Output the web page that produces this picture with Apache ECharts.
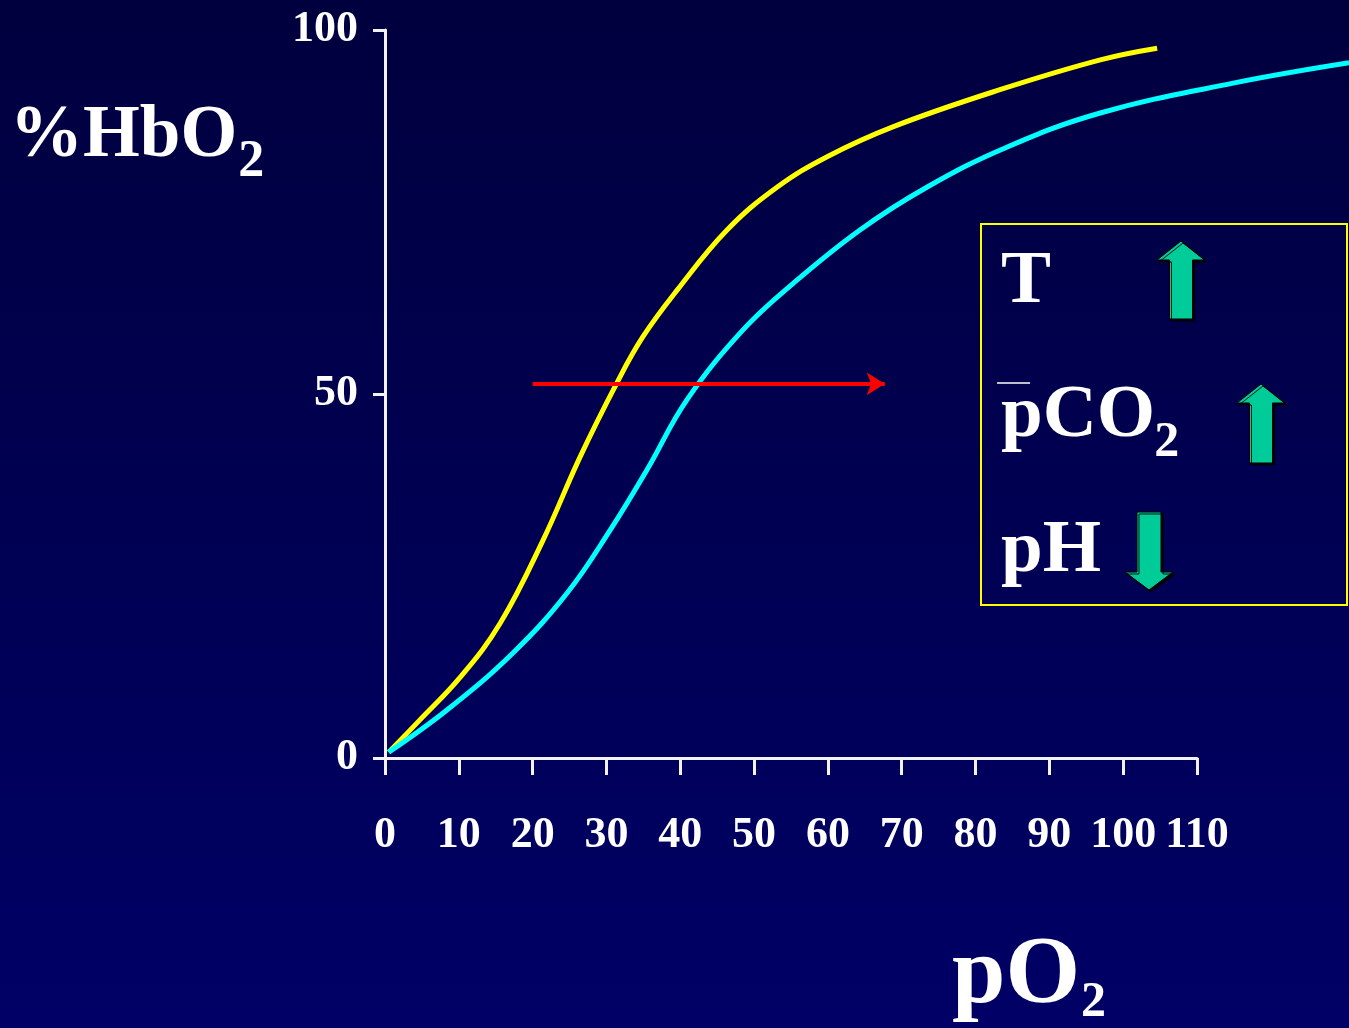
<!DOCTYPE html>
<html><head><meta charset="utf-8">
<script src="https://cdn.jsdelivr.net/npm/echarts@6/dist/echarts.min.js"></script>
<style>html,body{margin:0;padding:0;background:#000050;overflow:hidden}#c{width:1349px;height:1028px}</style>
</head><body><div id="c"></div>
<script>
// ---- data ----
const xTicks = [0, 10, 20, 30, 40, 50, 60, 70, 80, 90, 100, 110];
const yTicks = [0, 50, 100];
// left-shifted curve (yellow)
const yellowX = [0.5, 4.7, 10.2, 15.6, 21.4, 26.4, 31.4, 34.9, 39.6, 46.3, 53.1, 59.9, 68.8, 83.3, 96.9, 104.6];
const yellowY = [0.8, 5.2, 11.1, 18.5, 29.9, 41.3, 51.5, 57.8, 64.3, 72.5, 78.4, 82.6, 86.7, 91.8, 95.9, 97.5];
// right-shifted curve (cyan) - runs past the end of the drawn axis
const cyanX = [0.5, 8.4, 17.3, 24.7, 30.5, 35.5, 40.9, 48.5, 55.3, 64.3, 73.4, 84.0, 96.9, 114.9, 130.6];
const cyanY = [0.8, 6.6, 14.4, 22.7, 31.3, 39.6, 49.2, 58.8, 65.2, 72.5, 78.4, 83.8, 88.6, 92.7, 95.5];
// shift arrow (red)
const shiftFrom = [20, 51.4];
const shiftTo = [67.7, 51.4];
// texts
const yTitle = ['%HbO', '2'];
const xTitle = ['pO', '2'];
const legendLabels = ['T', 'pCO', 'pH'];

const SERIF = '"Liberation Serif","Times New Roman",serif';
const zip = (xs, ys) => xs.map((x, i) => [x, ys[i]]);

const W = 1349, GRID_L = 385, GRID_R = 152;
const xMax = xTicks[xTicks.length - 1];
// second (hidden) x axis spans the full width to the right edge with the same scale
const xMaxWide = xMax * (W - GRID_L) / (W - GRID_L - GRID_R);

const chart = echarts.init(document.getElementById('c'), null, {renderer: 'canvas'});

const mctx = document.createElement('canvas').getContext('2d');
function tw(text, size) { mctx.font = 'bold ' + size + 'px ' + SERIF; return mctx.measureText(text).width; }

function txt(text, x, y, size, shadow) {
  return {
    type: 'text', silent: true,
    style: {
      text: text, x: x, y: y, fill: '#ffffff',
      font: 'bold ' + size + 'px ' + SERIF,
      align: 'left', verticalAlign: 'middle',
      textShadowColor: shadow ? '#000000' : 'transparent',
      textShadowOffsetX: shadow ? 3 : 0, textShadowOffsetY: shadow ? 3 : 0, textShadowBlur: 0
    }
  };
}
const arrowStyle = {fill: '#00CC99', stroke: '#000000', lineWidth: 1, shadowColor: 'rgba(0,0,0,0.9)', shadowOffsetX: 2, shadowOffsetY: 2};
function upArrow(cx, tipY, baseY, headHalf, shaftHalf, bottomY) {
  return {
    type: 'polygon', silent: true,
    shape: {points: [[cx, tipY], [cx + headHalf, baseY], [cx + shaftHalf, baseY], [cx + shaftHalf, bottomY],
                     [cx - shaftHalf, bottomY], [cx - shaftHalf, baseY], [cx - headHalf, baseY]]},
    style: arrowStyle
  };
}
function downArrow(cx, topY, baseY, headHalf, shaftHalf, tipY) {
  return {
    type: 'polygon', silent: true,
    shape: {points: [[cx - shaftHalf, topY], [cx + shaftHalf, topY], [cx + shaftHalf, baseY], [cx + headHalf, baseY],
                     [cx, tipY], [cx - headHalf, baseY], [cx - shaftHalf, baseY]]},
    style: arrowStyle
  };
}

const graphics = [
  txt(yTitle[0], 10, 137, 73, true),
  txt(yTitle[1], 10 + tw(yTitle[0], 73) + 1, 163, 52, true),
  txt(xTitle[0], 952, 977, 96, true),
  txt(xTitle[1], 952 + tw(xTitle[0], 96) + 1, 1003, 50, true),
  {type: 'rect', silent: true, shape: {x: 981, y: 224, width: 366, height: 381},
   style: {fill: 'transparent', stroke: '#FFFF00', lineWidth: 2}},
  txt(legendLabels[0], 1001, 283, 75, true),
  txt(legendLabels[1], 1001, 417, 75, true),
  txt('2', 1001 + tw(legendLabels[1], 75) - 1, 443, 50, true),
  {type: 'line', silent: true, shape: {x1: 997, y1: 383, x2: 1030, y2: 383}, style: {stroke: '#ffffff', lineWidth: 1.5}},
  txt(legendLabels[2], 1001, 552, 75, true),
  upArrow(1181, 241, 260, 24, 11.5, 319),
  upArrow(1261, 384, 403, 24, 11.5, 463),
  downArrow(1149, 512, 572, 24, 12, 590)
];

const axisColor = '#f2f2f2';
const hiddenAxis = {show: false, axisLine: {show: false}, axisTick: {show: false}, axisLabel: {show: false}, splitLine: {show: false}};
const option = {
  animation: false,
  backgroundColor: {type: 'linear', x: 0, y: 0, x2: 0, y2: 1,
    colorStops: [{offset: 0, color: '#00003e'}, {offset: 1, color: '#000066'}]},
  grid: [
    {left: GRID_L, right: GRID_R, top: 30, bottom: 270, containLabel: false},
    {left: GRID_L, right: 0, top: 30, bottom: 270, containLabel: false}
  ],
  xAxis: [{
    gridIndex: 0, type: 'value', min: xTicks[0], max: xMax, interval: 10,
    axisLine: {show: true, onZero: false, lineStyle: {color: axisColor, width: 3}},
    axisTick: {show: true, length: 17, lineStyle: {color: axisColor, width: 3}},
    axisLabel: {color: '#ffffff', fontFamily: SERIF, fontWeight: 'bold', fontSize: 44, margin: 56,
      formatter: v => xTicks.includes(v) ? String(v) : ''},
    splitLine: {show: false}
  }, Object.assign({gridIndex: 1, type: 'value', min: 0, max: xMaxWide}, hiddenAxis)],
  yAxis: [{
    gridIndex: 0, type: 'value', min: yTicks[0], max: yTicks[yTicks.length - 1], interval: 50,
    axisLine: {show: true, onZero: false, lineStyle: {color: axisColor, width: 3}},
    axisTick: {show: true, length: 12, lineStyle: {color: axisColor, width: 3}},
    axisLabel: {color: '#ffffff', fontFamily: SERIF, fontWeight: 'bold', fontSize: 44, margin: 27,
      formatter: v => yTicks.includes(v) ? String(v) : ''},
    splitLine: {show: false}
  }, Object.assign({gridIndex: 1, type: 'value', min: yTicks[0], max: yTicks[yTicks.length - 1]}, hiddenAxis)],
  series: [
    {
      type: 'line', name: 'left', xAxisIndex: 1, yAxisIndex: 1, data: zip(yellowX, yellowY),
      smooth: 0.4, showSymbol: false, lineStyle: {color: '#FFFF00', width: 5, cap: 'butt'}, silent: true, z: 3
    },
    {
      type: 'line', name: 'right', xAxisIndex: 1, yAxisIndex: 1, data: zip(cyanX, cyanY),
      smooth: 0.4, showSymbol: false, lineStyle: {color: '#00FFFF', width: 5}, silent: true, z: 3,
      markLine: {
        silent: true, animation: false, symbol: ['none', 'arrow'], symbolSize: [17, 18],
        label: {show: false},
        lineStyle: {color: '#FF0000', width: 4, type: 'solid'},
        data: [[{coord: shiftFrom}, {coord: shiftTo}]]
      }
    }
  ],
  graphic: graphics
};
chart.setOption(option);
</script>
</body></html>
